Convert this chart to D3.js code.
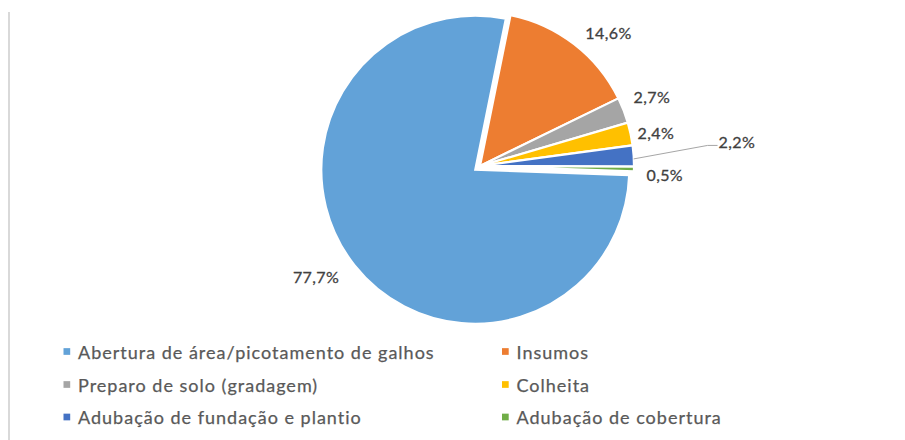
<!DOCTYPE html>
<html>
<head>
<meta charset="utf-8">
<script src="https://cdn.jsdelivr.net/npm/d3@7"></script>
<style>
  html, body { margin: 0; padding: 0; background: #fff; }
  svg { display: block; }
</style>
</head>
<body>
<svg id="chart" width="905" height="440"></svg>
<script>
// ---- data ----
const categories = [
  "Abertura de área/picotamento de galhos",
  "Insumos",
  "Preparo de solo (gradagem)",
  "Colheita",
  "Adubação de fundação e plantio",
  "Adubação de cobertura"
];
const values = [77.7, 14.6, 2.7, 2.4, 2.2, 0.5];
const valueLabels = ["77,7%", "14,6%", "2,7%", "2,4%", "2,2%", "0,5%"];

// ---- style / layout ----
const colors = ["#62A2D8", "#ED7D31", "#A5A5A5", "#FFC000", "#4472C4", "#70AD47"];
const explode = [6, 0, 0, 0, 0, 0];
const labelGap = [38, 31, 31, 25, 104, 31];
const labelNudgeDeg = [4.3, 6.3, -0.5, 1.3, -1.6, 1.7];
const cx = 480, cy = 166, r = 154;
const startDeg = 92;

const svg = d3.select("#chart");
const rad = d => d * Math.PI / 180;

// chart area left border
svg.append("line")
  .attr("x1", 9).attr("x2", 9).attr("y1", 12).attr("y2", 440)
  .attr("stroke", "#d9d9d9").attr("stroke-width", 2);

const pie = d3.pie().sort(null).value(d => d)
  .startAngle(rad(startDeg)).endAngle(rad(startDeg) + 2 * Math.PI);
const arcs = pie(values);
const arc = d3.arc().innerRadius(0).outerRadius(r);

const g = svg.append("g").attr("transform", `translate(${cx},${cy})`);

const dir = a => [Math.sin(a), -Math.cos(a)];

g.selectAll("path.slice").data(arcs).join("path")
  .attr("class", "slice")
  .attr("d", arc)
  .attr("fill", (d, i) => colors[i])
  .attr("stroke", "#fff")
  .attr("stroke-width", 2.2)
  .attr("stroke-linejoin", "miter")
  .attr("transform", (d, i) => {
    const m = (d.startAngle + d.endAngle) / 2;
    const [ux, uy] = dir(m);
    return `translate(${ux * explode[i]},${uy * explode[i]})`;
  });

// data labels
const labelFont = "Lato, 'Open Sans', sans-serif";
arcs.forEach((d, i) => {
  const m = (d.startAngle + d.endAngle) / 2;
  const [ex, ey] = dir(m).map(v => v * explode[i]);
  const la = m + rad(labelNudgeDeg[i]);
  const R = r + labelGap[i];
  const [lx0, ly0] = dir(la);
  const lx = ex + lx0 * R, ly = ey + ly0 * R;
  const t = g.append("text")
    .attr("x", lx).attr("y", ly + 5.8)
    .attr("text-anchor", "middle")
    .attr("font-family", labelFont)
    .attr("font-size", 16)
    .attr("letter-spacing", 0.4)
    .attr("fill", "#404040")
    .attr("stroke", "#404040")
    .attr("stroke-width", 0.3)
    .text(valueLabels[i]);
  if (labelGap[i] > 60) {
    const w = t.node().getComputedTextLength();
    const [ax, ay] = dir(m).map(v => v * r);
    const left = lx - w / 2 - 1;
    g.append("path")
      .attr("d", d3.line()([[ax, ay + 3], [left - 10, ly + 3.5], [left, ly + 3.5]]))
      .attr("fill", "none")
      .attr("stroke", "#a6a6a6")
      .attr("stroke-width", 1);
  }
});

// legend
const colX = [63.5, 502];
const rowY = [351.5, 384.5, 417];
const sq = 6.7;
const legend = svg.append("g");
categories.forEach((c, i) => {
  const x = colX[i % 2], y = rowY[Math.floor(i / 2)];
  legend.append("rect")
    .attr("x", x).attr("y", y - sq / 2)
    .attr("width", sq).attr("height", sq)
    .attr("fill", colors[i]);
  legend.append("text")
    .attr("x", x + 14.5).attr("y", y + 7)
    .attr("font-family", labelFont)
    .attr("font-size", 18)
    .attr("letter-spacing", 1.0)
    .attr("fill", "#595959")
    .attr("stroke", "#595959")
    .attr("stroke-width", 0.25)
    .text(c);
});
</script>
</body>
</html>
